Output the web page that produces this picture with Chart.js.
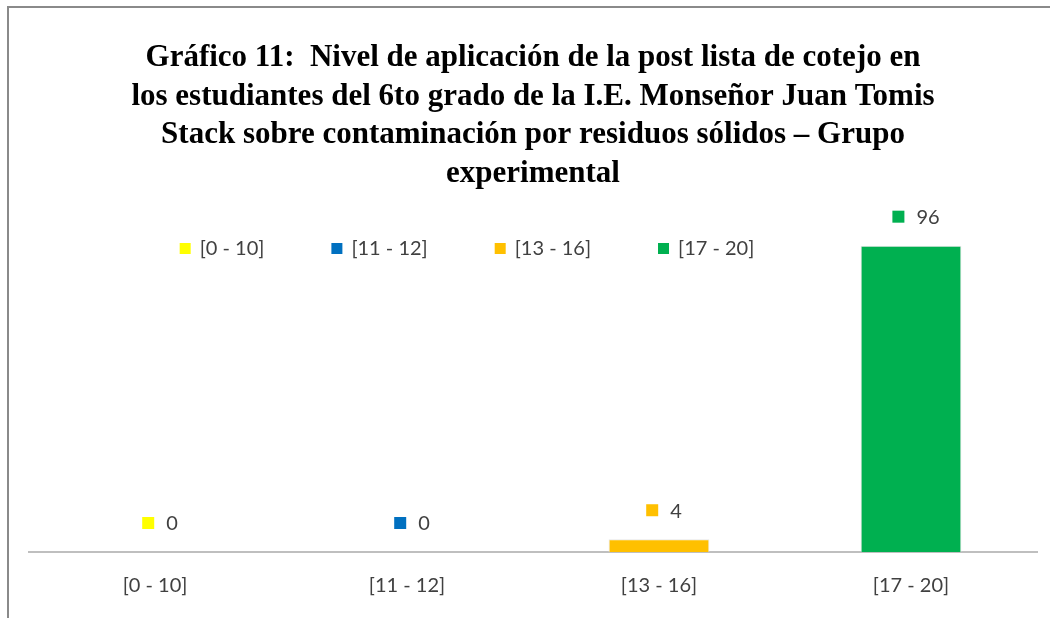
<!DOCTYPE html>
<html>
<head>
<meta charset="utf-8">
<script src="https://cdn.jsdelivr.net/npm/chart.js@4.4.1/dist/chart.umd.min.js"></script>
<style>
  html, body { margin: 0; padding: 0; background: #fff; }
  #wrap { position: relative; width: 1050px; height: 618px; overflow: hidden; }
  #frame { position: absolute; left: 7px; top: 6px; width: 1100px; height: 700px;
           border-top: 2px solid #8a8a8a; border-left: 2px solid #8a8a8a; }
  #chart { position: absolute; left: 0; top: 0; }
</style>
</head>
<body>
<div id="wrap">
  <div id="frame"></div>
  <canvas id="chart" width="1050" height="618"></canvas>
</div>
<script>
// =====================
// DATA
// =====================
const categories = ["[0 - 10]", "[11 - 12]", "[13 - 16]", "[17 - 20]"]
const values = [0, 0, 4, 96]
const barColors = ["#FFFF00", "#0070C0", "#FFC000", "#00B050"]
const titleLines = [
  "Gráfico 11:  Nivel de aplicación de la post lista de cotejo en",
  "los estudiantes del 6to grado de la I.E. Monseñor Juan Tomis",
  "Stack sobre contaminación por residuos sólidos – Grupo",
  "experimental"
]

const textColor = "#404040"
const labelFont = "20px Lato, 'Liberation Sans', sans-serif"

// =====================
// VALUE LABELS (square marker + number)
// =====================
const valueLabels = {
  id: "valueLabels",
  afterDatasetsDraw(chart){
    const ctx = chart.ctx
    const meta = chart.getDatasetMeta(0)
    ctx.save()
    ctx.font = labelFont
    ctx.textBaseline = "middle"
    ctx.textAlign = "left"
    meta.data.forEach((bar, i) => {
      let txt = String(values[i])
      let tw = ctx.measureText(txt).width
      let block = 12 + 12 + tw
      let left = bar.x + 5 - block / 2
      let cy = bar.y - 29
      ctx.fillStyle = barColors[i]
      ctx.fillRect(left, cy - 6, 12, 12)
      ctx.fillStyle = textColor
      ctx.fillText(txt, left + 24, cy + 1)
    })
    ctx.restore()
  }
}

// =====================
// LEGEND (inside plot area)
// =====================
const insideLegend = {
  id: "insideLegend",
  afterDraw(chart){
    const ctx = chart.ctx
    ctx.save()
    ctx.font = labelFont
    ctx.textBaseline = "middle"
    ctx.textAlign = "left"
    let widths = categories.map(c => ctx.measureText(c).width)
    let total = widths.reduce((a, w) => a + 11 + 9 + w, 0) + 67 * (categories.length - 1)
    let x = 467 - total / 2
    let y = 248
    categories.forEach((c, i) => {
      ctx.fillStyle = barColors[i]
      ctx.fillRect(x, y - 5, 11, 11)
      ctx.fillStyle = textColor
      ctx.fillText(c, x + 20, y + 1)
      x += 20 + widths[i] + 67
    })
    ctx.restore()
  }
}

// =====================
// CHART
// =====================
new Chart(document.getElementById("chart"), {
  type: "bar",
  data: {
    labels: categories,
    datasets: [{
      data: values,
      backgroundColor: barColors,
      borderColor: "#e6e6e6",
      borderWidth: 1,
      barPercentage: 0.4,
      categoryPercentage: 1
    }]
  },
  options: {
    responsive: false,
    animation: false,
    layout: { padding: { left: 29, right: 13, top: 0, bottom: 0 } },
    plugins: {
      legend: { display: false },
      tooltip: { enabled: false },
      title: {
        display: true,
        text: titleLines,
        color: "#000",
        font: { family: "'Liberation Serif', serif", size: 31, weight: "bold", lineHeight: 1.242 },
        padding: { top: 39, bottom: 8 }
      }
    },
    scales: {
      x: {
        grid: { display: false, drawTicks: false },
        border: { display: true, color: "#bfbfbf", width: 2 },
        ticks: { color: textColor, font: { family: "Lato, 'Liberation Sans', sans-serif", size: 20 }, padding: 22 },
        afterFit(scale){ scale.height = 66 }
      },
      y: {
        display: false,
        min: 0,
        max: 110
      }
    }
  },
  plugins: [valueLabels, insideLegend]
})
</script>
</body>
</html>
